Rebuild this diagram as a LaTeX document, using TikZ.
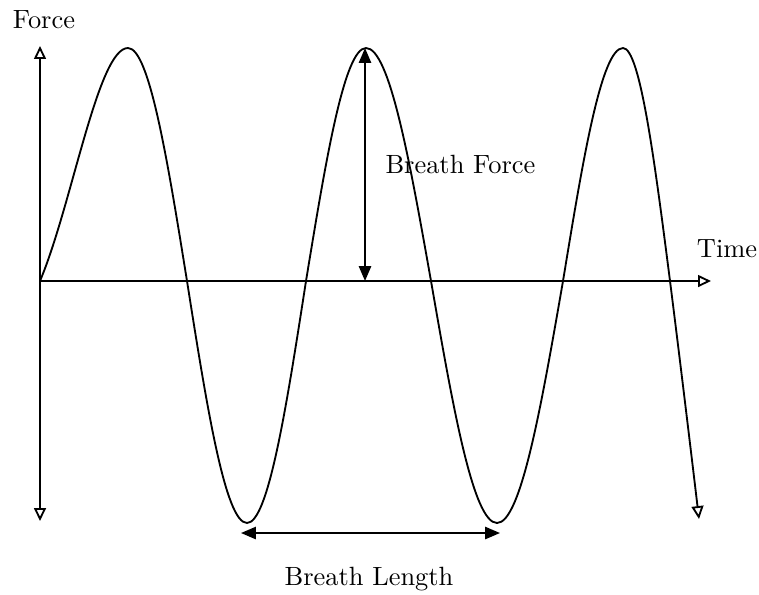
\documentclass[tikz,border=0pt]{standalone}
\usetikzlibrary{arrows.meta}
\begin{document}
\begin{tikzpicture}[x=0.3788pt,y=-0.3788pt,
  line/.style={line width=0.7pt},
  opentip/.tip={Triangle[open,length=4.9pt,width=4.5pt]},
  filltip/.tip={Triangle[length=5.6pt,width=4.6pt]},
  axis/.style={line,-opentip},
  dim/.style={line,filltip-filltip},
  lbl/.style={inner sep=0pt,anchor=base}]
\useasboundingbox (0,0) rectangle (759,594);
% axes
\coordinate (O) at (40,281);
\coordinate (Ytop) at (40,46);
\coordinate (Ybot) at (40,521);
\coordinate (Xend) at (711,281);
\draw[line,opentip-opentip] (Ybot) -- (Ytop);
\draw[axis] (O) -- (Xend);
% wave key points
\coordinate (P1) at (128,48);
\coordinate (Z1) at (187,281);
\coordinate (M1) at (247,523);
\coordinate (Z2) at (306,281);
\coordinate (P2) at (366,48);
\coordinate (Z3) at (431,281);
\coordinate (M2) at (497,523);
\coordinate (Z4) at (563,281);
\coordinate (P3) at (623,48);
\coordinate (Z5) at (670,281);
\coordinate (E) at (699,519);
\draw[axis] (O) .. controls (72,205) and (98,48) .. (P1)
  cos (Z1) sin (M1) cos (Z2) sin (P2) cos (Z3) sin (M2) cos (Z4) sin (P3) cos (Z5)
  .. controls (680,360) and (692,460) .. (E);
% dimension arrows
\coordinate (BFtop) at (365,48);
\coordinate (BFbot) at (365,281);
\draw[dim] (BFbot) -- (BFtop);
\coordinate (BLl) at (241,533);
\coordinate (BLr) at (500,533);
\draw[dim] (BLl) -- (BLr);
% labels
\node[lbl] (force) at (44,28) {Force};
\node[lbl] (time) at (727,257) {Time};
\node[lbl,anchor=base west] (bforce) at (385,173) {Breath Force};
\node[lbl] (blength) at (369,585) {Breath Length};
\end{tikzpicture}
\end{document}
